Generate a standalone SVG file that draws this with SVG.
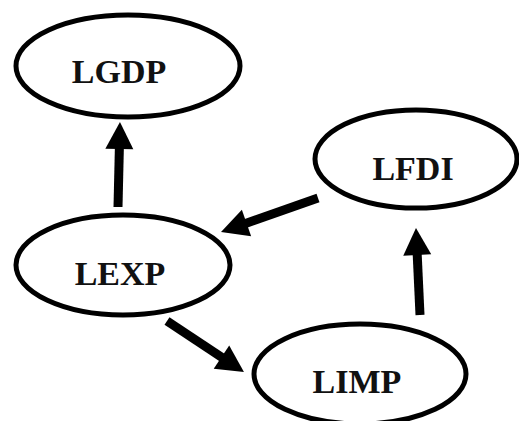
<svg xmlns="http://www.w3.org/2000/svg" width="519" height="421" viewBox="0 0 519 421">
<style>
.node ellipse{fill:#fff;stroke:#000;stroke-width:5}
.node text{font-family:"Liberation Serif","Times New Roman",serif;font-weight:bold;font-size:34px;fill:#111;text-anchor:middle}
.conn line{stroke:#000;stroke-width:9;marker-end:url(#ah)}
</style>
<defs>
<marker id="ah" markerUnits="userSpaceOnUse" markerWidth="28" markerHeight="28" refX="7" refY="14" orient="auto" overflow="visible">
<path d="M0,0 L27,14 L0,28 z" fill="#000"/>
</marker>
</defs>
<rect width="519" height="421" fill="#fff"/>
<g id="n-lgdp" class="node"><ellipse cx="128" cy="66" rx="112" ry="51"/><text x="119" y="83">LGDP</text></g>
<g id="n-lfdi" class="node"><ellipse cx="416" cy="159" rx="101" ry="49"/><text x="413" y="180">LFDI</text></g>
<g id="n-lexp" class="node"><ellipse cx="123" cy="265" rx="107" ry="50"/><text x="120" y="285">LEXP</text></g>
<g id="n-limp" class="node"><ellipse cx="360" cy="374" rx="106" ry="50"/><text x="357" y="393">LIMP</text></g>
<g id="connectors" class="conn">
<line x1="118" y1="207" x2="119.5" y2="142"/>
<line x1="318" y1="198" x2="239.9" y2="225.4"/>
<line x1="167" y1="321" x2="227.3" y2="361"/>
<line x1="420" y1="315" x2="416.9" y2="248"/>
</g>
</svg>
